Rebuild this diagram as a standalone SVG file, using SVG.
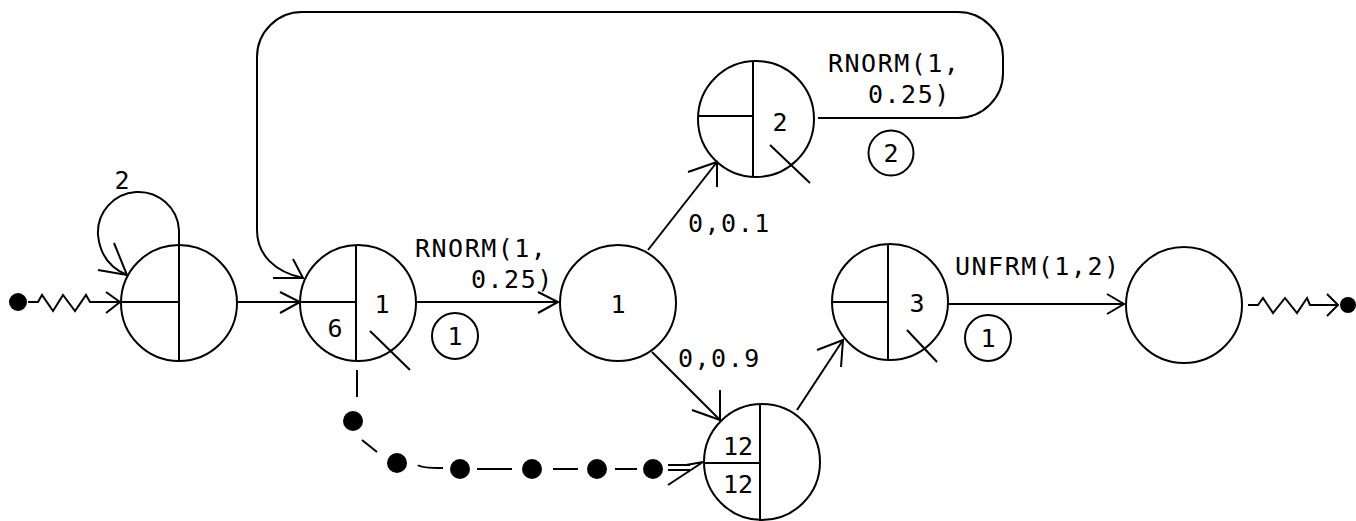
<svg xmlns="http://www.w3.org/2000/svg" width="1356" height="521" viewBox="0 0 1356 521">
<style>
.n{fill:none;stroke:#000;stroke-width:2}
.l{fill:none;stroke:#000;stroke-width:2}
.t{font-family:"DejaVu Sans Mono","Liberation Mono",monospace;font-size:25px;fill:#000;letter-spacing:1.5px}
.c{text-anchor:middle;letter-spacing:0}
.d{fill:#000}
</style>
<rect width="1356" height="521" fill="#fff"/>
<g id="connectors">
  <!-- entry zigzag -->
  <circle class="d" cx="18" cy="302" r="9"/>
  <polyline class="l" points="28,302 38,302 42,295 53,311 63,295 75,311 86,295 90,302 120,302"/>
  <polyline class="l" points="106,292 120,302 106,313"/>
  <!-- self loop on A -->
  <path class="l" d="M179,245 V230 A40.5,40.5 0 1 0 98,235 C100,255 110,268 127,275"/>
  <polyline class="l" points="98,270 127,275 114,243"/>
  <text class="t c" x="122" y="189">2</text>
  <!-- A to B -->
  <line class="l" x1="238" y1="302" x2="300" y2="302"/>
  <polyline class="l" points="280,292 300,302 280,313"/>
  <!-- B to C -->
  <line class="l" x1="417" y1="302" x2="558" y2="302"/>
  <polyline class="l" points="538,292 558,302 538,313"/>
  <text class="t" x="415" y="257">RNORM(1,</text>
  <text class="t" x="471" y="288">0.25)</text>
  <circle class="l" cx="455" cy="336" r="23"/>
  <text class="t c" x="455" y="345">1</text>
  <!-- C to node 2 -->
  <line class="l" x1="648" y1="250" x2="717" y2="162"/>
  <polyline class="l" points="717,187 717,162 688,172"/>
  <text class="t" x="688" y="232">0,0.1</text>
  <!-- C to node 12 -->
  <line class="l" x1="652" y1="352" x2="720" y2="420"/>
  <polyline class="l" points="720,390 720,420 692,410"/>
  <text class="t" x="678" y="367">0,0.9</text>
  <!-- node 12 to node 3 -->
  <line class="l" x1="797" y1="410" x2="843" y2="340"/>
  <polyline class="l" points="841,367 843,340 817,350"/>
  <!-- node 2 loop back to B -->
  <path class="l" d="M818,118 H958 A45,45 0 0 0 1003,73 V57 A45,45 0 0 0 958,12 H302 A45,45 0 0 0 257,57 V230 C257,255 275,272 303,278"/>
  <polyline class="l" points="273,278 303,278 293,259"/>
  <text class="t" x="828" y="72">RNORM(1,</text>
  <text class="t" x="868" y="103">0.25)</text>
  <circle class="l" cx="891" cy="153" r="22.5"/>
  <text class="t c" x="891" y="162">2</text>
  <!-- node 3 to E -->
  <line class="l" x1="948" y1="304" x2="1124" y2="304"/>
  <polyline class="l" points="1107,294 1124,304 1107,314"/>
  <text class="t" x="955" y="275">UNFRM(1,2)</text>
  <circle class="l" cx="988" cy="338" r="23"/>
  <text class="t c" x="988" y="347">1</text>
  <!-- exit zigzag -->
  <polyline class="l" points="1248,305 1258,305 1263,298 1273,313 1285,298 1297,313 1307,298 1310,305 1338,305"/>
  <polyline class="l" points="1327,294 1338,305 1327,316"/>
  <circle class="d" cx="1348" cy="305" r="8"/>
  <!-- dashed dotted link B to node 12 -->
  <line class="l" x1="357" y1="370" x2="357" y2="397"/>
  <circle class="d" cx="353" cy="421" r="10"/>
  <line class="l" x1="362" y1="440" x2="377" y2="452"/>
  <circle class="d" cx="397" cy="463" r="10"/>
  <path class="l" d="M418,465 Q420,468 443,468"/>
  <circle class="d" cx="460" cy="469" r="10"/>
  <line class="l" x1="477" y1="469" x2="512" y2="469"/>
  <circle class="d" cx="532" cy="469" r="10"/>
  <line class="l" x1="553" y1="469" x2="578" y2="469"/>
  <circle class="d" cx="597" cy="469" r="10"/>
  <line class="l" x1="615" y1="469" x2="637" y2="469"/>
  <circle class="d" cx="653" cy="469" r="10"/>
  <line class="l" x1="668" y1="465" x2="690" y2="465"/>
  <line class="l" x1="668" y1="470" x2="690" y2="470"/>
  <polyline class="l" points="686,465 703,462 668,485"/>
</g>
<g id="nodeA">
  <circle class="n" cx="179" cy="303" r="58"/>
  <line class="n" x1="179" y1="245" x2="179" y2="361"/>
  <line class="n" x1="121" y1="302" x2="179" y2="302"/>
</g>
<g id="nodeB">
  <circle class="n" cx="358" cy="303" r="58"/>
  <line class="n" x1="356" y1="245" x2="356" y2="361"/>
  <line class="n" x1="300" y1="302" x2="356" y2="302"/>
  <text class="t c" x="382" y="313">1</text>
  <text class="t c" x="335" y="337">6</text>
  <line class="n" x1="370" y1="331" x2="410" y2="370"/>
</g>
<g id="nodeC">
  <circle class="n" cx="618" cy="303" r="58"/>
  <text class="t c" x="618" y="313">1</text>
</g>
<g id="node2">
  <circle class="n" cx="756" cy="119" r="58"/>
  <line class="n" x1="753" y1="61" x2="753" y2="177"/>
  <line class="n" x1="698" y1="116" x2="753" y2="116"/>
  <text class="t c" x="780" y="131">2</text>
  <line class="n" x1="770" y1="145" x2="810" y2="183"/>
</g>
<g id="node3">
  <circle class="n" cx="890" cy="302" r="58"/>
  <line class="n" x1="888" y1="244" x2="888" y2="360"/>
  <line class="n" x1="832" y1="302" x2="888" y2="302"/>
  <text class="t c" x="917" y="312">3</text>
  <line class="n" x1="907" y1="330" x2="937" y2="362"/>
</g>
<g id="node12">
  <circle class="n" cx="762" cy="462" r="58"/>
  <line class="n" x1="760" y1="404" x2="760" y2="521"/>
  <line class="n" x1="704" y1="463" x2="760" y2="463"/>
  <text class="t c" x="738" y="455">12</text>
  <text class="t c" x="738" y="493">12</text>
</g>
<g id="nodeE">
  <circle class="n" cx="1184" cy="305" r="58"/>
</g>
</svg>
